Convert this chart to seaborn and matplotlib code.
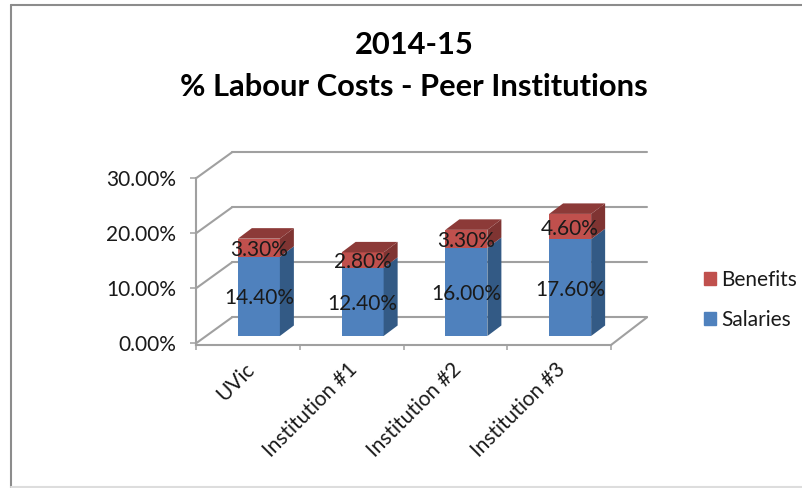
import matplotlib
matplotlib.use("Agg")
import matplotlib.pyplot as plt
from matplotlib.lines import Line2D
from matplotlib.patches import Patch
from matplotlib.transforms import ScaledTranslation
import pandas as pd
import seaborn as sns

categories = ["UVic", "Institution #1", "Institution #2", "Institution #3"]
salaries = [14.4, 12.4, 16.0, 17.6]
benefits = [3.3, 2.8, 3.3, 4.6]
y_ticks = [0, 10, 20, 30]
title_lines = ["2014-15", "% Labour Costs - Peer Institutions"]

BLUE, BLUE_SIDE = "#4F81BD", "#335A85"
RED, RED_SIDE, RED_TOP = "#C0504D", "#7F3432", "#8C3A38"
GRID = "#A0A0A0"
TEXT = "#1a1a1a"
W, H = 802, 488

sns.set_theme(style="white")
plt.rcParams["font.family"] = ["Lato", "DejaVu Sans"]

def box(l, t, r, b):
    return [l / W, 1 - b / H, (r - l) / W, (b - t) / H]

fig = plt.figure(figsize=(W / 100, H / 100), dpi=100, facecolor="white")

# frame of the chart area
for xs, ys, c in [((11, 11), (5, 488), "#8C8C8C"), ((11, 802), (5, 5), "#8C8C8C"),
                  ((11, 802), (487, 487), "#DDDDDD")]:
    fig.add_artist(Line2D([x / W for x in xs], [1 - y / H for y in ys], color=c, lw=1.5))

# axes frame: y-axis and x-axis of the front plane
ax = fig.add_axes(box(196, 178.3, 611, 345))
ax.set_facecolor("none")
ax.set_xlim(-0.5, 3.5)
ax.set_ylim(-0.3, 30)
for s in ("top", "right"):
    ax.spines[s].set_visible(False)
for s in ("left", "bottom"):
    ax.spines[s].set_color(GRID)
    ax.spines[s].set_linewidth(1.5)
ax.set_yticks(y_ticks, [f"{v:.2f}%" for v in y_ticks], fontsize=15, color=TEXT)
ax.tick_params(axis="y", length=4.5, width=1.1, color=GRID, pad=10, left=True)
ax.set_xticks([i - 0.5 for i in range(5)], minor=True)
ax.tick_params(axis="x", which="minor", length=3.6, width=1.1, color=GRID, bottom=True)
ax.set_xticks(range(4), categories, fontsize=15, color=TEXT, rotation=45,
              ha="right", rotation_mode="anchor")
ax.tick_params(axis="x", which="major", length=0, pad=10)
shift = ScaledTranslation(-4 / 100, 0, fig.dpi_scale_trans)
for lab in ax.get_xticklabels():
    lab.set_transform(lab.get_transform() + shift)

# back wall and floor in data units of the front plane
DX, DY = 36 / 103.75, 26 / 5.5
for v in y_ticks:
    ax.plot([-0.5 + DX, 3.5 + DX], [v + DY, v + DY], color=GRID, lw=1.5, clip_on=False)
    ax.plot([-0.5, -0.5 + DX], [v, v + DY], color=GRID, lw=1.5, clip_on=False)
ax.plot([3.5, 3.5 + DX], [-0.3, DY], color=GRID, lw=1.5, clip_on=False)

# bars
df = pd.DataFrame({"category": categories, "Salaries": salaries, "Benefits": benefits})
ax2 = fig.add_axes(box(207, 171, 622, 336))
ax2.set_zorder(ax.get_zorder() + 1)
sns.barplot(df, x="category", y="Salaries", color=BLUE, saturation=1, width=0.405,
            linewidth=0, ax=ax2)
sns.barplot(df, x="category", y="Benefits", color=RED, saturation=1, width=0.405,
            linewidth=0, bottom=df["Salaries"], ax=ax2)
ax2.set_xlim(-0.5, 3.5)
ax2.set_ylim(0, 30)
ax2.set_axis_off()

dx, dy = 14 / 103.75, 10.5 / 5.5
for i, (s, b) in enumerate(zip(salaries, benefits)):
    r = i + 0.2025
    l = i - 0.2025
    ax2.fill([r, r + dx, r + dx, r], [0, dy, s + dy, s], color=BLUE_SIDE, lw=0, clip_on=False)
    ax2.fill([r, r + dx, r + dx, r], [s, s + dy, s + b + dy, s + b], color=RED_SIDE, lw=0, clip_on=False)
    ax2.fill([l, r, r + dx, l + dx], [s + b, s + b, s + b + dy, s + b + dy], color=RED_TOP, lw=0, clip_on=False)

for c in ax2.containers:
    for t in ax2.bar_label(c, fmt="%.2f%%", label_type="center", fontsize=15, color=TEXT):
        t.xyann = (0, -1.5)

for y, t in zip((45, 87), title_lines):
    fig.text(414 / W, 1 - y / H, t, ha="center", va="center", fontsize=22.2, fontweight="bold", color="black")

fig.legend(handles=[Patch(color=RED, label="Benefits"), Patch(color=BLUE, label="Salaries")],
           loc="center left", bbox_to_anchor=(685 / W, 1 - 300 / H), frameon=False, fontsize=15,
           handlelength=0.58, handleheight=0.58, handletextpad=0.24, labelspacing=0.95,
           labelcolor=TEXT)

fig.savefig("out.png", dpi=100)
